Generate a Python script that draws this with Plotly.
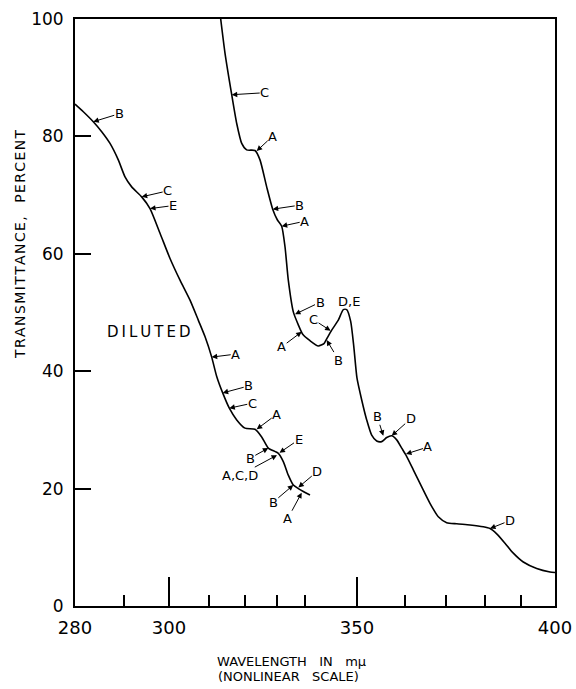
import numpy as np
import plotly.graph_objects as go

# ---- nonlinear wavelength scale (major tick wavelengths and their place on the scale)
SCALE_WL = [280, 300, 350, 400]
SCALE_POS = [0, 94, 282, 480]
MINOR_POS = [49, 134, 170, 202, 230, 330, 371, 410, 446]
X_TICK_TEXT = ["280", "300", "350", "400"]
Y_TICKS = [0, 20, 40, 60, 80, 100]

# ---- curve "DILUTED" (wavelength m\u03bc, transmittance %)
diluted_wl = [280.00, 281.77, 283.89, 285.68, 287.45, 289.21, 290.64, 292.06, 294.19,
              295.96, 298.09, 300.27, 302.93, 305.59, 307.79, 309.57, 311.36, 312.69,
              314.28, 316.04, 318.01, 320.21, 322.87, 324.65, 326.41, 329.07, 330.40,
              331.73, 333.06, 334.39, 335.72, 337.50]
diluted_t = [85.5, 84.2, 82.5, 80.8, 78.8, 76.0, 73.1, 71.4, 69.7,
             67.7, 63.5, 59.2, 55.5, 52.1, 48.7, 45.9, 42.4, 39.1,
             36.3, 33.7, 31.7, 30.3, 30.1, 28.8, 26.9, 26.0, 24.6,
             22.3, 20.6, 20.0, 19.5, 18.9]

# ---- concentrated curve
conc_wl = [313.75, 314.89, 316.68, 318.01, 319.34, 320.66, 322.87, 324.20, 325.98,
           327.58, 328.80, 329.97, 330.85, 331.73, 333.06, 334.39, 335.56, 337.50,
           339.71, 341.22, 341.94, 343.27, 345.03, 346.36, 347.26, 348.32, 349.15,
           350.00, 351.19, 352.45, 353.71, 354.97, 356.24, 357.50, 358.76, 360.03,
           361.29, 362.37, 364.22, 366.34, 368.43, 370.53, 372.65, 375.18, 378.54,
           381.89, 383.59, 385.28, 387.37, 389.47, 391.99, 395.38, 398.74, 400.00]
conc_t = [100.0, 94.2, 87.1, 82.2, 78.8, 77.7, 77.6, 76.0, 71.4,
          67.6, 65.8, 64.7, 61.2, 55.5, 50.1, 47.9, 46.3, 45.2,
          44.3, 44.7, 45.5, 47.0, 48.7, 50.5, 50.5, 48.5, 44.2,
          38.8, 35.1, 31.7, 29.1, 28.1, 28.0, 28.7, 29.0, 28.3,
          26.9, 25.7, 23.2, 20.3, 17.5, 15.2, 14.2, 14.0, 13.8,
          13.5, 13.2, 12.3, 10.7, 9.0, 7.5, 6.4, 5.8, 5.7]

# ---- arrow labels: text and the curve point (wavelength, transmittance) they mark
label_text = ["B", "C", "E", "A", "B", "C", "A", "B", "E", "A,C,D", "D", "B", "A",
              "C", "A", "B", "A", "B", "A", "C", "B", "B", "D", "A", "D"]
label_wl = [283.89, 294.19, 295.96, 311.36, 314.28, 316.04, 323.32, 326.41, 329.39,
            328.72, 334.39, 333.06, 335.29,
            316.68, 323.32, 327.58, 329.97, 333.51, 335.29, 342.98, 341.94,
            356.64, 358.76, 362.37, 383.59]
label_t = [82.5, 69.7, 67.7, 42.4, 36.3, 33.7, 30.1, 26.9, 26.1,
           25.7, 20.2, 20.6, 19.3,
           87.1, 77.5, 67.6, 64.7, 49.7, 46.7, 46.9, 45.3,
           29.0, 29.0, 25.9, 13.2]
# label offsets from the arrow tip, in pixels (layout)
label_dx = [26, 26, 23, 24, 26, 23, 20, -18, 19, -37, 19, -20, -14,
            33, 16, 27, 23, 25, -20, -17, 12, -6, 19, 22, 20]
label_dy = [-8, -6, -3, -3, -7, -5, -15, 10, -13, 20, -16, 17, 26,
            -2, -15, -4, -5, -12, 15, -11, 20, -19, -17, -7, -8]

peak_label = "D,E"
peak_wl, peak_t = 346.36, 50.5


def to_scale(wl):
    return np.interp(wl, SCALE_WL, SCALE_POS)


FONT = "DejaVu Sans"
fig = go.Figure()
for wl, t in [(diluted_wl, diluted_t), (conc_wl, conc_t)]:
    fig.add_trace(go.Scatter(x=to_scale(np.array(wl)), y=t, mode="lines",
                             line=dict(color="black", width=1.6, shape="spline", smoothing=0.6),
                             showlegend=False, hoverinfo="skip"))

for txt, wl, t, dx, dy in zip(label_text, label_wl, label_t, label_dx, label_dy):
    fig.add_annotation(x=float(to_scale(wl)), y=t, text=txt, showarrow=True,
                       ax=dx, ay=dy, axref="pixel", ayref="pixel",
                       arrowhead=2, arrowsize=1.1, arrowwidth=1, arrowcolor="black",
                       standoff=0, borderpad=0,
                       font=dict(family=FONT, size=13, color="black"))

fig.add_annotation(x=float(to_scale(peak_wl)), y=peak_t, text=peak_label, showarrow=False,
                   xshift=6, yshift=8, font=dict(family=FONT, size=13, color="black"))

HS = "\u200a"
fig.add_annotation(xref="paper", yref="paper", x=0.154, y=0.467, text="\u2009".join("DILUTED"),
                   xanchor="center", yanchor="middle",
                   showarrow=False, font=dict(family=FONT, size=15, color="black"))
fig.add_annotation(xref="paper", yref="paper", x=-0.1146, y=0.6167, textangle=-90,
                   xanchor="center", yanchor="middle",
                   text=HS.join("TRANSMITTANCE,") + "\u00a0\u00a0\u00a0" + HS.join("PERCENT"),
                   showarrow=False, font=dict(family=FONT, size=14, color="black"))
fig.add_annotation(xref="paper", yref="paper", x=0.45, y=-0.0937,
                   xanchor="center", yanchor="middle",
                   text="WAVELENGTH\u00a0\u00a0\u00a0IN\u00a0\u00a0\u00a0m\u03bc",
                   showarrow=False, font=dict(family=FONT, size=13, color="black"))
fig.add_annotation(xref="paper", yref="paper", x=0.4458, y=-0.1193,
                   xanchor="center", yanchor="middle",
                   text="(NONLINEAR\u00a0\u00a0\u00a0SCALE)",
                   showarrow=False, font=dict(family=FONT, size=13, color="black"))

fig.update_xaxes(range=[0, 480], tickmode="array", tickvals=SCALE_POS, ticktext=X_TICK_TEXT,
                 ticks="inside", ticklen=29, tickwidth=1.5, tickcolor="black",
                 showline=True, linecolor="black", linewidth=1.8, mirror=True,
                 showgrid=False, zeroline=False, ticklabelstandoff=4, automargin=False,
                 tickfont=dict(family=FONT, size=18, color="black"),
                 minor=dict(tickmode="array", tickvals=MINOR_POS, ticks="inside",
                            ticklen=11, tickwidth=1.5, tickcolor="black", showgrid=False))
fig.update_yaxes(range=[0, 100], tickmode="array", tickvals=Y_TICKS,
                 ticks="inside", ticklen=16, tickwidth=1.5, tickcolor="black",
                 showline=True, linecolor="black", linewidth=1.8, mirror=True,
                 showgrid=False, zeroline=False, ticklabelstandoff=6, automargin=False,
                 tickfont=dict(family=FONT, size=17, color="black"))

fig.update_layout(width=576, height=689, margin=dict(l=75, r=21, t=19, b=83),
                  paper_bgcolor="white", plot_bgcolor="white", showlegend=False)
fig.write_html("out.html")
